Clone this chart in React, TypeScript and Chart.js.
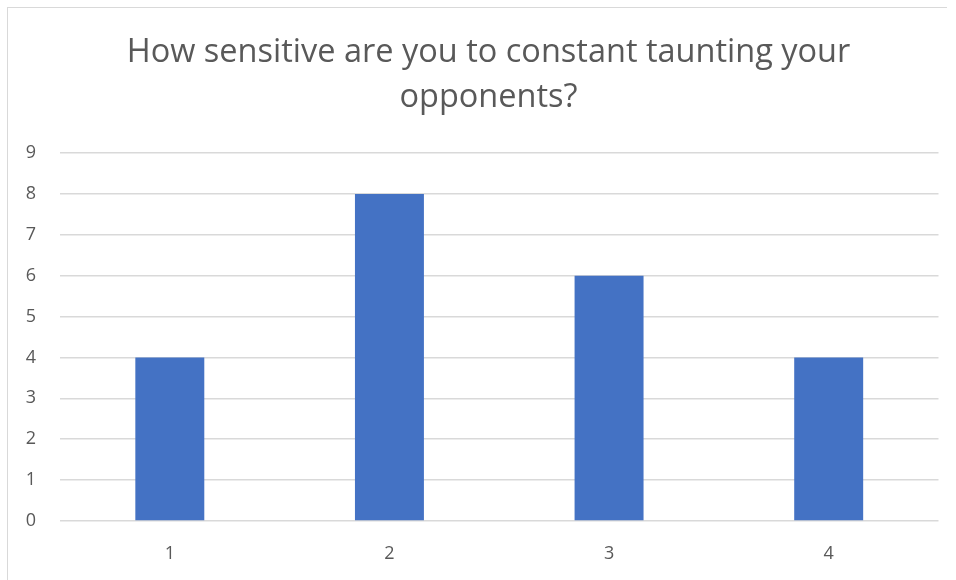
import React, { useEffect, useRef } from "react";
import { Chart, registerables } from "chart.js";

Chart.register(...registerables);

const categories = ["1", "2", "3", "4"];
const responses = [4, 8, 6, 4];
const titleLines = ["How sensitive are you to constant taunting your", "opponents?"];

const FONT = "'Open Sans', sans-serif";
const TEXT = "#595959";

export default function App() {
  const ref = useRef<HTMLCanvasElement | null>(null);

  useEffect(() => {
    if (!ref.current) return;
    const chart = new Chart(ref.current, {
      type: "bar",
      data: {
        labels: categories,
        datasets: [
          {
            data: responses,
            backgroundColor: "#4472C4",
            borderWidth: 0,
            categoryPercentage: 1,
            barPercentage: 0.314,
          },
        ],
      },
      options: {
        animation: false,
        responsive: false,
        events: [],
        layout: { padding: { left: 10, right: 9, top: 0, bottom: 10 } },
        plugins: {
          legend: { display: false },
          tooltip: { enabled: false },
          title: {
            display: true,
            text: titleLines,
            color: TEXT,
            font: { family: FONT, size: 32.5, weight: "normal", lineHeight: 1.385 },
            padding: { top: 22.5, bottom: 32.5 },
          },
        },
        scales: {
          x: {
            grid: { display: false, drawTicks: false },
            border: { display: false },
            ticks: { color: TEXT, font: { family: FONT, size: 18 }, padding: 22 },
            afterFit: (s: any) => {
              s.height = 49;
            },
          },
          y: {
            min: 0,
            max: 9,
            grid: { color: "#d9d9d9", lineWidth: 1.5, drawTicks: false },
            border: { display: false },
            ticks: { stepSize: 1, color: TEXT, font: { family: FONT, size: 18 }, padding: 24 },
            afterFit: (s: any) => {
              s.width = 42;
            },
          },
          // empty spacer on the right so the plot ends before the chart edge
          spacer: {
            type: "linear",
            position: "right",
            grid: { display: false, drawTicks: false },
            border: { display: false },
            ticks: { display: false },
            afterFit: (s: any) => {
              s.width = 20.5;
            },
          },
        },
      },
    });
    return () => chart.destroy();
  }, []);

  return (
    <div
      style={{
        position: "absolute",
        left: 7,
        top: 7,
        width: 939,
        height: 573,
        overflow: "hidden",
        borderTop: "1.5px solid #d9d9d9",
        borderLeft: "1.5px solid #d9d9d9",
        background: "#fff",
      }}
    >
      <canvas ref={ref} width={960} height={572} style={{ display: "block" }} />
    </div>
  );
}
